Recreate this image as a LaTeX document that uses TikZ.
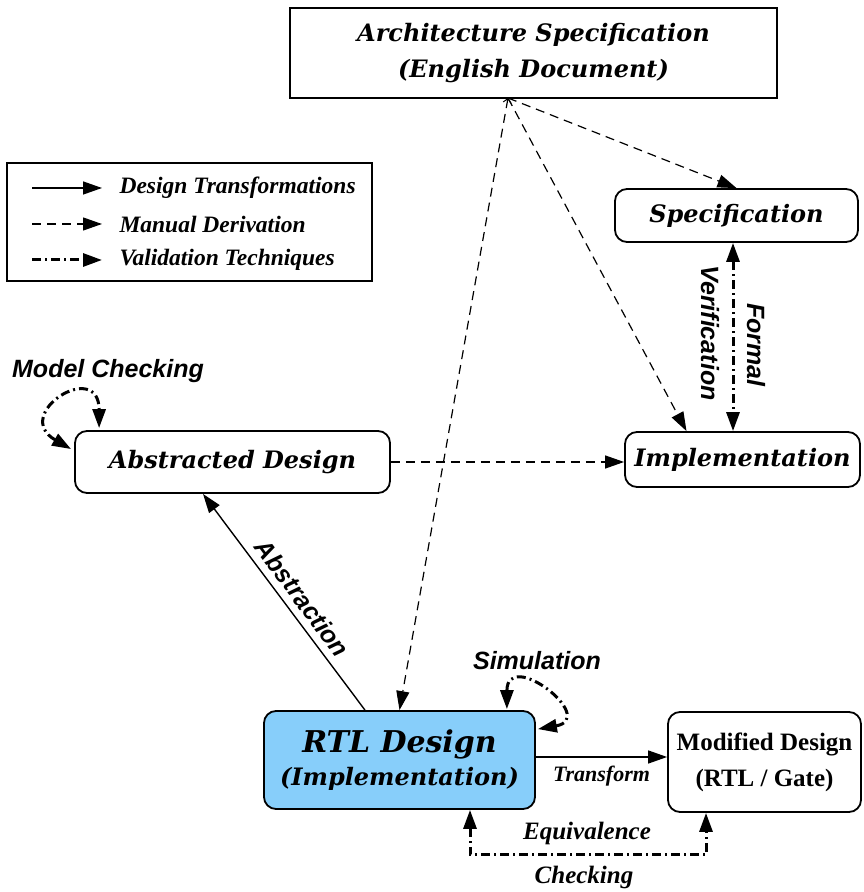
\documentclass[tikz,border=0pt]{standalone}
\usepackage{fontspec}
\newfontfamily\serifT{Liberation Serif}
\newfontfamily\sansA{Liberation Sans}
\newfontfamily\schbi{DejaVu Serif}
\usetikzlibrary{arrows.meta,calc}

% font shortcuts
\newcommand\bxfont{\schbi\fontsize{24}{36}\selectfont\bfseries\itshape}
\newcommand\rtlfont{\schbi\fontsize{30}{38}\selectfont\bfseries\itshape}
\newcommand\lgfont{\serifT\fontsize{23.5}{28}\selectfont\bfseries\itshape}
\newcommand\eqfont{\serifT\fontsize{25}{28}\selectfont\bfseries\itshape}
\newcommand\modfont{\serifT\fontsize{25}{36}\selectfont\bfseries}
\newcommand\lblfont{\sansA\fontsize{25}{30}\selectfont\bfseries\itshape}
\newcommand\smfont{\serifT\fontsize{22}{26}\selectfont\bfseries\itshape}

\definecolor{rtlblue}{RGB}{135,206,250}

\tikzset{
  >={Triangle[length=19pt,width=13pt]},
  rbox/.style={draw, line width=1.8pt, rounded corners=12pt, align=center, inner sep=0pt},
  sbox/.style={draw, line width=1.8pt, align=center, inner sep=0pt},
  solidarr/.style={line width=1.4pt, ->},
  dasharr/.style={line width=1.2pt, dash pattern=on 9pt off 6pt, ->},
  validarr/.style={line width=3pt, dash pattern=on 9pt off 4pt on 2pt off 4pt},
}

\begin{document}
\begin{tikzpicture}[x=1pt,y=1pt]
\useasboundingbox (0,0) rectangle (863,892);

% boxes
\node[sbox, minimum width=487pt, minimum height=90pt, font=\bxfont] (arch) at (533.5,839)
  {Architecture Specification\\(English Document)};
\node[rbox, minimum width=243pt, minimum height=53pt, font=\bxfont] (spec) at (736.5,676.5) {Specification};
\node[rbox, minimum width=235pt, minimum height=55pt, font=\bxfont] (impl) at (742.5,432.5) {Implementation};
\node[rbox, minimum width=315pt, minimum height=62pt, font=\bxfont] (abs) at (232.5,430) {Abstracted Design};
\node[rbox, fill=rtlblue, minimum width=271pt, minimum height=98pt] (rtl) at (399.5,132)
  {{\rtlfont RTL Design}\\[7pt]{\bxfont (Implementation)}};
\node[rbox, minimum width=193pt, minimum height=100pt, font=\modfont] (mod) at (764.5,130)
  {Modified Design\\(RTL / Gate)};

% legend
\node[sbox, minimum width=365pt, minimum height=118pt] (legend) at (189.5,670) {};
\coordinate (l1a) at (32,704); \coordinate (l1b) at (102,704);
\coordinate (l2a) at (32,668); \coordinate (l2b) at (102,668);
\coordinate (l3a) at (32,632); \coordinate (l3b) at (102,632);
\draw[solidarr] (l1a) -- (l1b);
\draw[dasharr] (l2a) -- (l2b);
\draw[validarr, ->] (l3a) -- (l3b);
\node[font=\lgfont, anchor=west] (lg1) at (116,704) {Design Transformations};
\node[font=\lgfont, anchor=west] (lg2) at (116,668) {Manual Derivation};
\node[font=\lgfont, anchor=west] (lg3) at (116,632) {Validation Techniques};

% manual derivations from the architecture document
\coordinate (P) at (508,794);
\draw[dasharr] (P) -- (spec.north);
\draw[dasharr] (P) -- ($(impl.north)+(-56,0)$);
\draw[line width=1.2pt, dash pattern=on 9pt off 6pt,
      {Straight Barb[length=4pt,width=8pt,line width=1pt]}->] (P) -- (rtl.north);
\draw[dasharr] (abs.east) -- (abs.east -| impl.west);

% formal verification
\coordinate (fx) at (733,0);
\draw[validarr, <->] (spec.south -| fx) -- (impl.north -| fx);
\node[font=\lblfont, rotate=-90] (formal) at (756,547) {Formal};
\node[font=\lblfont, rotate=-90] (verif) at (710,559) {Verification};

% abstraction
\draw[solidarr] ($(rtl.north)+(-34.5,0)$) -- node[sloped, above=4pt, pos=0.47, font=\lblfont] (abstr) {Abstraction}
  ($(abs.south)+(-29.5,0)$);

% model checking loop
\coordinate (mcA) at ($(abs.north west)+(-3,-19)$);
\coordinate (mcB) at ($(abs.north west)+(25,2)$);
\draw[validarr, <->] (mcA) to[out=150, in=90, distance=70pt] (mcB);
\node[font=\lblfont] (mclab) at (108,521) {Model Checking};

% simulation loop
\coordinate (smA) at ($(rtl.north east)+(-29,1)$);
\coordinate (smB) at ($(rtl.north east)+(2,-19)$);
\draw[validarr, <->] (smA) to[out=90, in=10, distance=62pt] (smB);
\node[font=\lblfont] (simlab) at (537,231) {Simulation};

% transform
\draw[solidarr] (rtl.east |- 0,135) -- node[below=5pt, font=\smfont] (trlab) {Transform} (mod.west |- 0,135);

% equivalence checking
\coordinate (e1) at (470,37);
\coordinate (e2) at (706,37);
\draw[validarr, <->] (rtl.south -| e1) -- (e1) -- (e2) -- (mod.south -| e2);
\node[font=\eqfont] (eqlab) at (587,59) {Equivalence};
\node[font=\eqfont] (chklab) at (584,15) {Checking};
\end{tikzpicture}
\end{document}
